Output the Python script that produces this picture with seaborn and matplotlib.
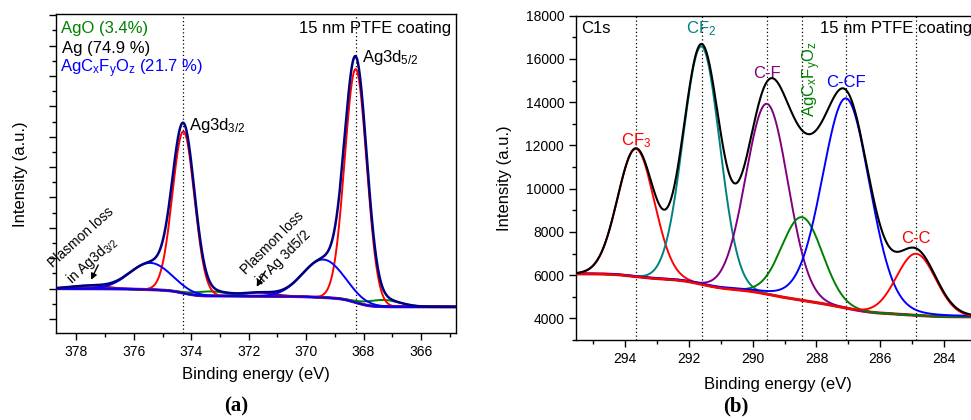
import numpy as np
import pandas as pd
import matplotlib
matplotlib.use("Agg")
import matplotlib.pyplot as plt
import seaborn as sns
from matplotlib.ticker import MultipleLocator, NullFormatter

# ---------------- Ag 3d fit components ----------------
ag_names = ["Ag 3d5/2", "Ag 3d3/2", "AgCxFyOz 3d5/2", "AgCxFyOz 3d3/2",
            "AgO 3d5/2", "AgO 3d3/2", "Plasmon 3d5/2", "Plasmon 3d3/2"]
ag_groups = ["Ag", "Ag", "AgCxFyOz", "AgCxFyOz", "AgO", "AgO", "Plasmon", "Plasmon"]
ag_centers = [368.27, 374.27, 369.40, 375.42, 367.30, 373.30, 371.65, 377.55]
ag_heights = [7.68, 5.32, 1.25, 0.88, 0.22, 0.15, 0.12, 0.10]
ag_fwhm = [0.90, 0.90, 1.70, 1.70, 1.35, 1.35, 1.3, 1.5]
ag_eta = [0.0, 0.0, 0.0, 0.0, 0.0, 0.0, 0.0, 0.0]
ag_bg_levels = [-0.60, 0.0]          # low-BE end, high-BE end
ag_marked = [374.27, 368.27]         # dotted guide lines
ag_percent = {"AgO": "3.4%", "Ag": "74.9 %", "AgCxFyOz": "21.7 %"}

# ---------------- C 1s fit components ----------------
c_names = ["CF3", "CF2", "C-F", "AgCxFyOz", "C-CF", "C-C"]
c_centers = [293.65, 291.60, 289.55, 288.45, 287.07, 284.88]
c_heights = [5900, 11000, 8800, 3850, 9700, 2850]
c_fwhm = [1.35, 1.35, 1.55, 1.50, 1.75, 1.45]
c_eta = [0.0, 0.0, 0.0, 0.0, 0.1, 0.0]
c_bg_levels = [4070, 6060]

ag_colors = {"Ag": "#ff0000", "AgCxFyOz": "#0000ff", "AgO": "#008000", "Plasmon": "#800080"}
c_colors = {"CF3": "#ff0000", "CF2": "#008080", "C-F": "#800080",
            "AgCxFyOz": "#008000", "C-CF": "#0000ff", "C-C": "#ff0000"}


def pseudo_voigt(x, c, h, w, eta):
    u = ((x - c) / w) ** 2
    g = np.exp(-4 * np.log(2) * u)
    lor = 1.0 / (1.0 + 4 * u)
    return h * ((1 - eta) * g + eta * lor)


def shirley(comps, low, high):
    cum = np.cumsum(np.sum(comps, axis=0))
    return low + (high - low) * cum / cum[-1]


def build(x, names, centers, heights, fwhm, eta, levels):
    comps = np.array([pseudo_voigt(x, c, h, w, e)
                      for c, h, w, e in zip(centers, heights, fwhm, eta)])
    bg = shirley(comps, *levels)
    rows = [pd.DataFrame({"energy": x, "intensity": bg + comp, "curve": n})
            for n, comp in zip(names, comps)]
    rows.append(pd.DataFrame({"energy": x, "intensity": bg, "curve": "background"}))
    rows.append(pd.DataFrame({"energy": x, "intensity": bg + comps.sum(axis=0), "curve": "envelope"}))
    return pd.concat(rows, ignore_index=True)


x_ag = np.arange(363.5, 380.0, 0.01)
x_c = np.arange(282.0, 296.5, 0.01)
df_ag = build(x_ag, ag_names, ag_centers, ag_heights, ag_fwhm, ag_eta, ag_bg_levels)
df_c = build(x_c, c_names, c_centers, c_heights, c_fwhm, c_eta, c_bg_levels)

sns.set_theme(style="ticks")
plt.rcParams.update({
    "font.family": ["Liberation Sans", "DejaVu Sans"],
    "font.size": 12,
    "text.color": "black",
    "axes.labelcolor": "black",
    "mathtext.fontset": "custom",
    "mathtext.rm": "Liberation Sans",
    "mathtext.it": "Liberation Sans:italic",
    "axes.linewidth": 1.0,
    "axes.edgecolor": "black",
    "xtick.color": "black",
    "ytick.color": "black",
    "xtick.labelcolor": "black",
    "ytick.labelcolor": "black",
    "xtick.labelsize": 10,
    "ytick.labelsize": 10,
    "xtick.major.size": 5, "xtick.minor.size": 3,
    "ytick.major.size": 5, "ytick.minor.size": 3,
    "xtick.major.width": 1, "xtick.minor.width": 1,
    "ytick.major.width": 1, "ytick.minor.width": 1,
})

W, H = 971, 420
fig = plt.figure(figsize=(W / 100, H / 100), dpi=100)
ax1 = fig.add_axes([56 / W, 1 - 333.3 / H, 399.7 / W, 319.0 / H])
ax2 = fig.add_axes([576 / W, 1 - 340.0 / H, 404 / W, 324.3 / H])


def draw(ax, df, name, color, lw, z):
    d = df[df["curve"] == name]
    sns.lineplot(data=d, x="energy", y="intensity", ax=ax, color=color, lw=lw,
                 sort=False, estimator=None, zorder=z, legend=False)


# ---- panel (a): Ag 3d ----
draw(ax1, df_ag, "background", "#800080", 2.2, 2)
for n, g in zip(ag_names, ag_groups):
    z = {"Plasmon": 2.5, "AgO": 3, "Ag": 4, "AgCxFyOz": 5}[g]
    draw(ax1, df_ag, n, ag_colors[g], 1.4, z)
draw(ax1, df_ag, "envelope", "#000080", 1.8, 6)
for xv in ag_marked:
    ax1.axvline(xv, color="black", lw=0.9, ls=(0, (1, 2)), zorder=1)

ax1.set_xlim(378.71, 364.79)
ax1.set_ylim(-1.47, 9.03)
ax1.xaxis.set_major_locator(MultipleLocator(2))
ax1.xaxis.set_minor_locator(MultipleLocator(1))
ax1.yaxis.set_major_locator(MultipleLocator(1))
ax1.yaxis.set_minor_locator(MultipleLocator(0.5))
ax1.yaxis.set_major_formatter(NullFormatter())
ax1.set_xlabel("Binding energy (eV)", fontsize=12)
ax1.set_ylabel("Intensity (a.u.)", fontsize=12)
ax1.xaxis.set_label_coords(0.5, -0.106)
ax1.yaxis.set_label_coords(-0.070, 0.5)

t = ax1.transAxes
ax1.text(0.012, 0.9404, "AgO (" + ag_percent["AgO"] + ")", color="#008000", transform=t, va="baseline")
ax1.text(0.016, 0.8777, "Ag (" + ag_percent["Ag"] + ")", color="black", transform=t, va="baseline")
ax1.text(0.010, 0.8169, r"AgC$\mathregular{_x}$F$\mathregular{_y}$O$\mathregular{_z}$ (" + ag_percent["AgCxFyOz"] + ")",
         color="#0000ff", transform=t, va="baseline")
ax1.text(0.9875, 0.9404, "15 nm PTFE coating", transform=t, ha="right", va="baseline")
ax1.text(368.06, 7.47, r"Ag3d$\mathregular{_{5/2}}$", va="baseline")
ax1.text(374.08, 5.22, r"Ag3d$\mathregular{_{3/2}}$", va="baseline")

ax1.text(377.84, 1.70, "Plasmon loss", fontsize=10, rotation=42, ha="center", va="center",
         rotation_mode="anchor")
ax1.text(377.45, 0.91, r"in Ag3d$\mathregular{_{3/2}}$", fontsize=10, rotation=42, ha="center",
         va="center", rotation_mode="anchor")
ax1.text(371.19, 1.52, "Plasmon loss", fontsize=10, rotation=45, ha="center", va="center",
         rotation_mode="anchor")
ax1.text(370.77, 1.04, "in Ag 3d5/2", fontsize=10, rotation=45, ha="center", va="center",
         rotation_mode="anchor")
arrow = dict(arrowstyle="-|>", color="black", lw=1.0, mutation_scale=9, shrinkA=0, shrinkB=0)
ax1.annotate("", xy=(377.49, 0.29), xytext=(377.24, 0.78), arrowprops=arrow)
ax1.annotate("", xy=(371.72, 0.06), xytext=(371.42, 0.58), arrowprops=arrow)

# ---- panel (b): C 1s ----
for n in c_names:
    draw(ax2, df_c, n, c_colors[n], 1.4, 3)
draw(ax2, df_c, "background", "#ff0000", 2.2, 2)
draw(ax2, df_c, "envelope", "black", 1.5, 5)
for xv in c_centers:
    ax2.axvline(xv, color="black", lw=0.9, ls=(0, (1, 2)), zorder=1)

ax2.set_xlim(295.53, 282.88)
ax2.set_ylim(3000, 18000)
ax2.xaxis.set_major_locator(MultipleLocator(2))
ax2.xaxis.set_minor_locator(MultipleLocator(1))
ax2.yaxis.set_major_locator(MultipleLocator(2000))
ax2.yaxis.set_minor_locator(MultipleLocator(1000))
ax2.set_xlabel("Binding energy (eV)", fontsize=12)
ax2.set_ylabel("Intensity (a.u.)", fontsize=12)
ax2.xaxis.set_label_coords(0.5, -0.114)
ax2.yaxis.set_label_coords(-0.158, 0.5)

t2 = ax2.transAxes
ax2.text(0.0116, 0.9457, "C1s", transform=t2, va="baseline")
ax2.text(0.604, 0.9457, "15 nm PTFE coating", transform=t2, va="baseline")
ax2.text(c_centers[0], 11987, r"CF$\mathregular{_3}$", color=c_colors["CF3"], ha="center", va="baseline")
ax2.text(c_centers[1], 17189, r"CF$\mathregular{_2}$", color=c_colors["CF2"], ha="center", va="baseline")
ax2.text(c_centers[2], 15106, "C-F", color=c_colors["C-F"], ha="center", va="baseline")
ax2.text(288.05, 13330, r"AgC$\mathregular{_x}$F$\mathregular{_y}$O$\mathregular{_z}$", color=c_colors["AgCxFyOz"],
         rotation=90, rotation_mode="anchor", ha="left", va="baseline")
ax2.text(c_centers[4], 14690, "C-CF", color=c_colors["C-CF"], ha="center", va="baseline")
ax2.text(c_centers[5], 7470, "C-C", color=c_colors["C-C"], ha="center", va="baseline")

for ax in (ax1, ax2):
    ax.tick_params(which="both", direction="out", top=False, right=False)
    for s in ax.spines.values():
        s.set_visible(True)
        s.set_linewidth(1.0)

cap = dict(fontsize=15, fontweight="bold", family=["Liberation Serif", "DejaVu Serif"], ha="center", va="center")
fig.text(236 / W, 1 - 406 / H, "(a)", **cap)
fig.text(736 / W, 1 - 406 / H, "(b)", **cap)

fig.savefig("out.png", dpi=100)
